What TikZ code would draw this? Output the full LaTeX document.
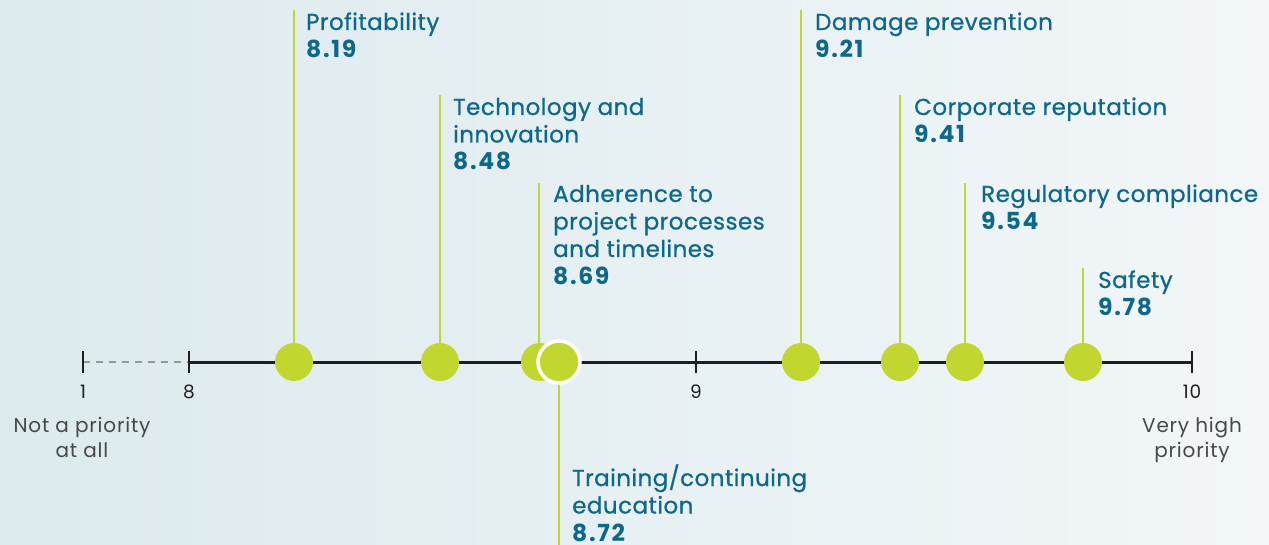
\documentclass[tikz,border=0pt]{standalone}
\usepackage{fontspec}
\setmainfont{Poppins}
\newfontfamily\lblfont{Poppins}[LetterSpace=2, FakeBold=0.8]
\newfontfamily\numfont{Poppins}[LetterSpace=7]
\newfontfamily\capfont{Poppins}[LetterSpace=4]
\newcommand{\num}[1]{{\fontsize{23.5}{27.5}\numfont\bfseries #1}}
\definecolor{lime}{RGB}{193,215,47}
\definecolor{labelblue}{RGB}{14,104,140}
\definecolor{axisblack}{RGB}{30,30,30}
\definecolor{dashgray}{RGB}{150,150,150}
\definecolor{captiongray}{RGB}{72,72,72}
\definecolor{bgL}{RGB}{220,234,238}
\definecolor{bgR}{RGB}{242,246,248}
\begin{document}
\begin{tikzpicture}[x=1pt,y=-1pt,
  lbl/.style={anchor=base west, inner sep=0, text=labelblue, font=\fontsize{23}{27.5}\lblfont},
  stem/.style={draw=lime, line width=2.5pt},
  dot/.style={circle, fill=lime, minimum size=38pt, inner sep=0},
  dotring/.style={circle, fill=lime, draw=white, line width=3.5pt, minimum size=42pt, inner sep=0},
  axisline/.style={draw=axisblack, line width=3pt},
  tickmark/.style={draw=axisblack, line width=2.5pt},
  dashline/.style={draw=dashgray, line width=2.5pt, dash pattern=on 7pt off 6pt},
  ticklbl/.style={anchor=base, inner sep=0, text=axisblack, font=\fontsize{18.5}{22}\capfont},
  caption/.style={anchor=base, inner sep=0, text=captiongray, align=center, font=\fontsize{20}{25}\capfont}]
\shade[left color=bgL, right color=bgR] (0,0) rectangle (1269,545);
\useasboundingbox (0,0) rectangle (1269,545);
% axis
\coordinate (t1) at (83,362);
\coordinate (t8) at (189,362);
\coordinate (t9) at (696,362);
\coordinate (t10) at (1192,362);
\draw[dashline] (t1) -- (t8);
\draw[axisline] (t8) -- (t10);
\foreach \t in {t1,t8,t9,t10} {\draw[tickmark] ([yshift=11pt]\t) -- ([yshift=-11pt]\t);}
\node[ticklbl] (n1) at (83,398) {1};
\node[ticklbl] (n8) at (189,398) {8};
\node[ticklbl] (n9) at (696,398) {9};
\node[ticklbl] (n10) at (1192,398) {10};
\node[caption] (c1) at (82,457) {Not a priority\\at all};
\node[caption] (c10) at (1192,457) {Very high\\priority};
% dots
\node[dot] (d1) at (294,362) {};
\node[dot] (d2) at (440,362) {};
\node[dot] (d3) at (540,362) {};
\node[dotring] (d4) at (559,362) {};
\node[dot] (d5) at (801,362) {};
\node[dot] (d6) at (900,362) {};
\node[dot] (d7) at (965,362) {};
\node[dot] (d8) at (1083,362) {};
% stems
\coordinate (s1) at (294,10);
\coordinate (s2) at (440,95);
\coordinate (s3) at (539,183);
\coordinate (s4) at (559,545);
\coordinate (s5) at (801,10);
\coordinate (s6) at (900,95);
\coordinate (s7) at (965,183);
\coordinate (s8) at (1083,268);
\draw[stem] (s1) -- (d1);
\draw[stem] (s2) -- (d2);
\draw[stem] (s3) -- (s3 |- d3.north);
\draw[stem] (s4) -- (d4);
\draw[stem] (s5) -- (d5);
\draw[stem] (s6) -- (d6);
\draw[stem] (s7) -- (d7);
\draw[stem] (s8) -- (d8);
% labels
\node[lbl] (l1) at (306,30) {\begin{tabular}[t]{@{}l@{}}Profitability\\\num{8.19}\end{tabular}};
\node[lbl] (l2) at (453,115) {\begin{tabular}[t]{@{}l@{}}Technology and\\innovation\\\num{8.48}\end{tabular}};
\node[lbl] (l3) at (553,202) {\begin{tabular}[t]{@{}l@{}}Adherence to\\project processes\\and timelines\\\num{8.69}\end{tabular}};
\node[lbl] (l4) at (572,486) {\begin{tabular}[t]{@{}l@{}}Training/continuing\\education\\\num{8.72}\end{tabular}};
\node[lbl] (l5) at (815,30) {\begin{tabular}[t]{@{}l@{}}Damage prevention\\\num{9.21}\end{tabular}};
\node[lbl] (l6) at (914,115) {\begin{tabular}[t]{@{}l@{}}Corporate reputation\\\num{9.41}\end{tabular}};
\node[lbl] (l7) at (981,202) {\begin{tabular}[t]{@{}l@{}}Regulatory compliance\\\num{9.54}\end{tabular}};
\node[lbl] (l8) at (1098,288) {\begin{tabular}[t]{@{}l@{}}Safety\\\num{9.78}\end{tabular}};
\end{tikzpicture}
\end{document}
